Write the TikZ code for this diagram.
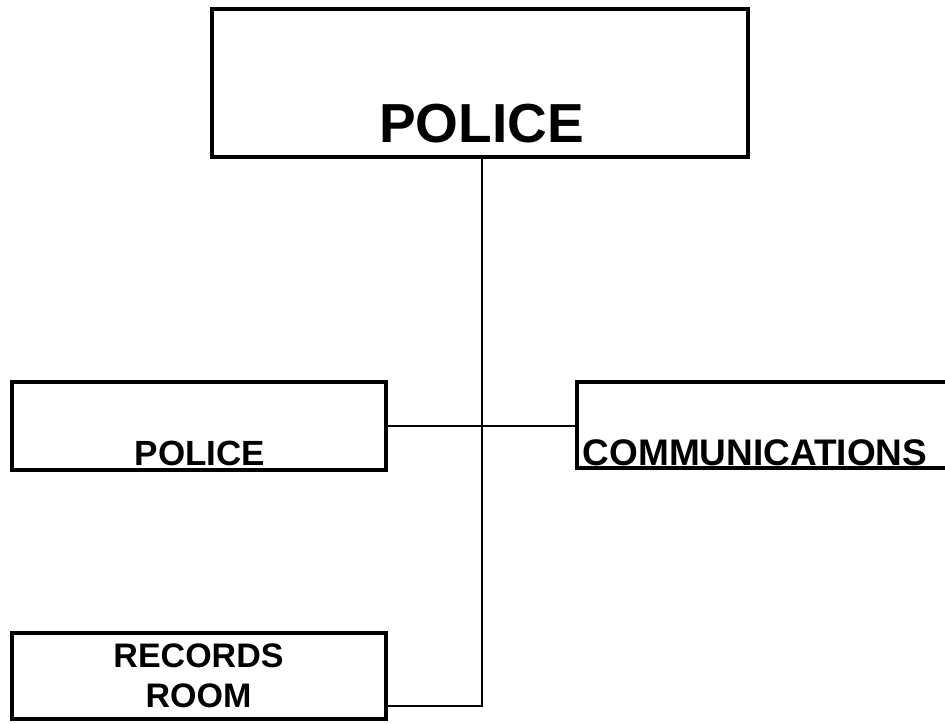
\documentclass[tikz,border=0pt]{standalone}
\usepackage{fontspec}
\setmainfont{Liberation Sans}
\begin{document}
\begin{tikzpicture}[x=1pt,y=-1pt,
  box/.style={draw=black, line width=4pt, rectangle, inner sep=0pt, outer sep=0pt},
  link/.style={draw=black, line width=2.2pt},
  bigtxt/.style={anchor=base, inner sep=0pt, font=\fontsize{55}{60}\selectfont\bfseries},
  smalltxt/.style={anchor=base, inner sep=0pt, font=\fontsize{35}{40}\selectfont\bfseries}]
\useasboundingbox (0,0) rectangle (945,723);
\node[box, minimum width=536pt, minimum height=148pt] (top) at (480,83) {};
\node[box, minimum width=374pt, minimum height=88pt] (pol) at (199,426) {};
\node[box, minimum width=413pt, minimum height=86pt] (com) at (783.5,425) {};
\node[box, minimum width=374pt, minimum height=86pt] (rec) at (199,676) {};
\node[bigtxt] (toptxt) at (481.5,142) {POLICE};
\node[smalltxt] (poltxt) at (200,465) {POLICE};
\node[smalltxt, font=\fontsize{37}{40}\selectfont\bfseries] (comtxt) at (755,465) {COMMUNICATIONS};
\node[smalltxt, font=\fontsize{34}{40}\selectfont\bfseries] (rectxt1) at (198.5,667) {RECORDS};
\node[smalltxt, font=\fontsize{34}{40}\selectfont\bfseries] (rectxt2) at (198.5,707) {ROOM};
\coordinate (mid) at (482,426);
\coordinate (j) at (482,706);
\draw[link] (top.south -| j) -- (j) -- (rec.east |- j);
\draw[link] (pol.east |- mid) -- (com.west |- mid);
\end{tikzpicture}
\end{document}
